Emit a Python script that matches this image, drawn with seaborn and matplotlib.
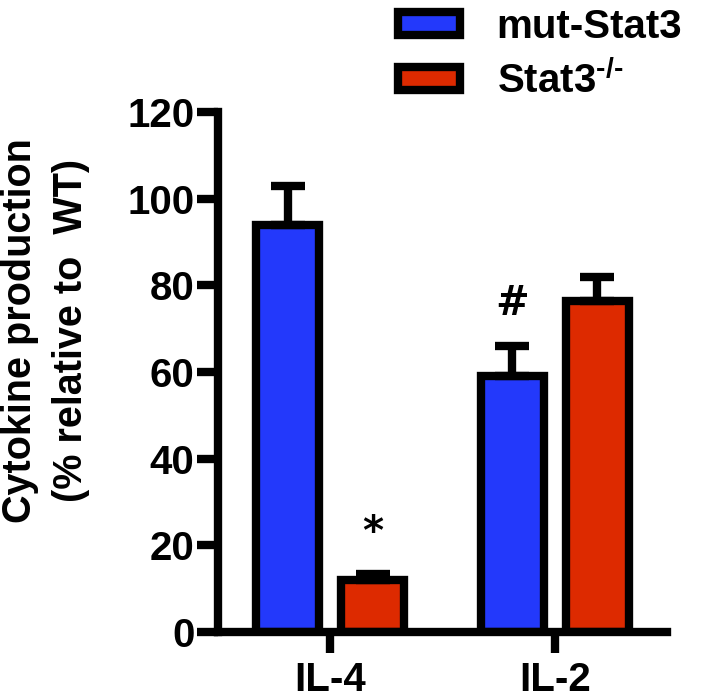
import matplotlib
matplotlib.use("Agg")
import matplotlib.pyplot as plt
import seaborn as sns
import pandas as pd
from matplotlib.patches import Patch

# data
cytokines = ["IL-4", "IL-2"]
groups = ["mut-Stat3", "Stat3$^{\\text{-/-}}$"]
means_mut = [94, 59]
sem_mut = [9, 7]
means_ko = [12, 76.5]
sem_ko = [1.3, 5.5]
marks_mut = ["", "#"]
marks_ko = ["*", ""]
colors = ["#2339FB", "#DD2A00"]
yticks = [0, 20, 40, 60, 80, 100, 120]

sns.set_theme(style="ticks")
plt.rcParams["font.family"] = ["Liberation Sans", "DejaVu Sans"]
plt.rcParams["font.weight"] = "bold"
plt.rcParams["mathtext.fontset"] = "custom"
plt.rcParams["mathtext.rm"] = "Liberation Sans:bold"
plt.rcParams["mathtext.bf"] = "Liberation Sans:bold"
plt.rcParams["mathtext.default"] = "bf"
plt.rcParams["text.color"] = "black"
plt.rcParams["axes.labelcolor"] = "black"
plt.rcParams["axes.edgecolor"] = "black"

df = pd.DataFrame({
    "Cytokine": cytokines * 2,
    "Group": [groups[0]] * len(cytokines) + [groups[1]] * len(cytokines),
    "Value": means_mut + means_ko,
})

lw = 6
fig = plt.figure(figsize=(7.04, 6.99), dpi=100)
ax = fig.add_axes([218 / 704, 1 - 632 / 699, 449 / 704, 520 / 699])
sns.barplot(data=df, x="Cytokine", y="Value", hue="Group", hue_order=groups,
            palette=colors, saturation=1, width=0.76, gap=0.26,
            edgecolor="black", linewidth=lw, errorbar=None, legend=False, ax=ax)

# one-sided error bars + significance marks
for cont, sems, marks in zip(ax.containers, [sem_mut, sem_ko], [marks_mut, marks_ko]):
    for bar, s, m in zip(cont, sems, marks):
        x = bar.get_x() + bar.get_width() / 2
        h = bar.get_height()
        ax.errorbar(x, h, yerr=[[0], [s]], ecolor="black", elinewidth=lw,
                    capsize=12.5, capthick=lw, zorder=3)
        if m:
            ax.annotate(m, (x, h + s), xytext=(0, 22), textcoords="offset points",
                        ha="center", va="baseline", fontsize=29, fontweight="bold",
                        color="black", family="DejaVu Sans")

ax.set_ylim(0, 120)
ax.set_xlim(-0.5, 1.5)
ax.set_yticks(yticks)
ax.set_xlabel("")
ax.set_ylabel("Cytokine production\n(% relative to  WT)", fontsize=28.5,
              fontweight="bold", linespacing=1.45)
ax.yaxis.set_label_coords(-0.285, 0.58)
sns.despine(ax=ax)
for sp in ["left", "bottom"]:
    ax.spines[sp].set_linewidth(lw)
    ax.spines[sp].set_color("black")
ax.tick_params(axis="both", width=lw, length=15, labelsize=29,
               colors="black", labelcolor="black")
ax.tick_params(axis="y", pad=2)
ax.tick_params(axis="x", pad=6)

handles = [Patch(facecolor=c, edgecolor="black", linewidth=lw) for c in colors]
fig.legend(handles, groups, loc="upper left", bbox_to_anchor=(390 / 704, 1.0),
           frameon=False, fontsize=29, handlelength=1.55, handleheight=0.5,
           handletextpad=0.9, labelspacing=0.35, borderpad=0.2, borderaxespad=0)

fig.savefig("out.png", dpi=100)
